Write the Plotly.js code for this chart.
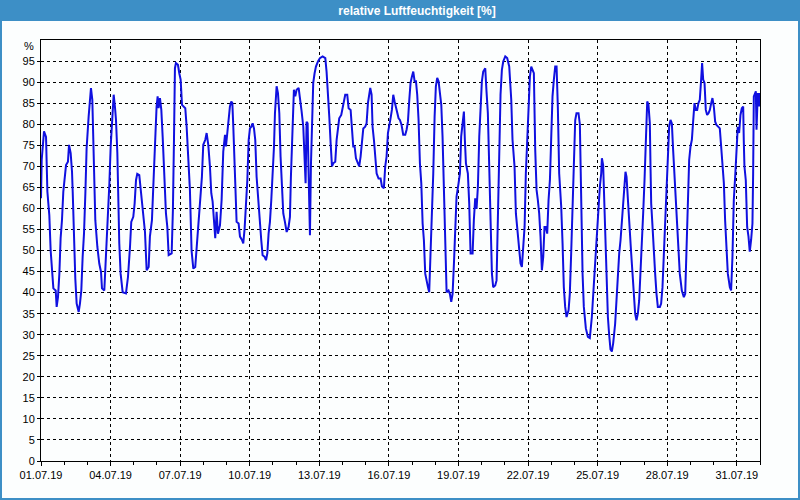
<!DOCTYPE html>
<html>
<head>
<meta charset="utf-8">
<script src="https://cdn.plot.ly/plotly-3.0.1.min.js"></script>
<style>
html,body{margin:0;padding:0;background:#fcfefe;}
#chart{width:800px;height:500px;}
</style>
</head>
<body>
<div id="chart"></div>
<script>
// hours since 01.07.2019 00:00
const hours = [
0,0.7,3.1,5.2,6.6,8.6,10.0,11.4,12.8,15.2,16.2,17.6,19.0,20.3,21.7,23.1,24.5,25.9,27.9,29.0,30.7,32.1,32.8,33.4,34.1,35.5,36.9,39.0,40.3,41.7,43.1,44.5,45.9,47.2,49.3,50.7,51.7,53.1,54.1,55.2,56.2,58.3,60.3,62.1,63.1,65.5,66.9,69.0,70.7,72.1,73.4,75.2,76.5,77.6,79.0,80.0,81.0,82.4,84.5,87.9,90.0,92.1,93.4,95.5,96.9,98.3,99.6,101.7,103.4,105.2,107.6,109.3,111.4,112.7,114.8,116.2,117.9,119.6,120.7,121.7,123.1,124.5,125.9,127.2,129.3,130.7,132.1,135.2,136.5,137.6,138.6,139.6,141.7,143.1,144.5,145.9,147.2,149.3,150.7,152.4,154.1,155.8,157.6,159.6,161.7,163.8,166.5,167.9,170.0,171.4,173.1,174.8,176.2,177.6,179.0,180.3,181.7,183.1,
185.2,186.9,188.6,190.4,191.4,192.8,194.5,195.5,196.9,198.0,199.0,200.7,202.4,204.5,205.9,208.0,209.3,210.7,212.1,213.5,214.9,216.2,217.6,219.0,220.4,221.7,223.1,224.9,226.6,227.9,229.3,231.4,232.8,234.2,235.5,236.9,238.3,239.7,241.1,242.1,243.8,245.2,246.6,247.9,249.3,250.7,252.4,254.2,256.2,257.6,258.6,259.7,261.7,263.1,264.5,266.6,267.9,269.7,271.4,272.8,273.8,274.8,275.9,276.9,277.6,278.3,279.3,280.4,281.7,283.1,284.5,286.6,288.6,291.4,294.2,295.5,296.9,298.3,299.7,301.1,302.4,304.5,305.9,307.3,308.6,310.7,312.1,313.5,314.8,316.9,318.3,320.4,321.7,323.1,324.5,325.9,328.0,329.3,330.7,332.1,333.5,335.5,336.9,338.3,339.7,340.7,342.1,343.1,344.5,345.9,347.3,349.3,351.4,352.8,354.8,356.2,357.6,359.0,360.4,361.7,363.1,364.5,365.9,367.3,368.6,370.0,
371.4,373.1,374.8,376.9,378.3,379.7,381.1,382.4,383.8,385.2,386.6,388.0,389.3,390.7,392.1,393.5,394.9,396.2,397.6,399.0,400.4,401.7,403.1,404.5,405.9,407.3,408.6,410.0,411.4,412.8,414.2,415.5,416.9,418.3,419.7,421.7,423.1,424.5,425.9,427.3,428.6,430.0,432.1,433.5,434.8,436.2,437.6,438.6,439.7,441.7,443.1,444.5,446.6,447.9,449.3,450.7,452.1,453.5,454.8,456.2,457.6,459.7,461.0,462.4,463.8,465.2,466.6,467.9,470.0,471.4,472.8,474.2,475.5,476.9,478.3,480.4,482.4,484.5,486.6,487.9,490.0,491.4,492.8,494.8,496.2,497.6,499.0,500.4,501.7,503.1,504.5,505.9,507.3,508.6,510.0,511.4,512.8,514.1,515.5,516.9,518.3,519.7,521.0,522.4,523.8,525.2,526.6,527.9,529.3,530.7,532.1,533.5,534.8,536.2,538.3,539.7,541.0,542.4,543.8,545.9,547.2,548.6,550.0,551.4,552.8,554.1,556.2,
557.6,559.0,560.4,561.7,563.8,565.9,567.9,570.0,571.4,572.8,574.2,575.5,576.9,578.3,579.7,580.4,581.7,582.4,583.8,585.2,586.6,587.9,589.3,590.7,592.1,594.1,595.5,596.9,598.3,599.7,601.0,602.4,603.8,604.8,605.9,606.6,607.9,609.3,610.7,612.1,613.5,614.8,616.2,617.6,619.0,620.4,621.7,623.1,624.5,625.9,627.3,628.6,630.0,630.7,631.4,632.8,634.1,635.5,636.9,638.3,640.4,641.7,643.1,644.5,645.9,647.2,648.6,650.0,651.4,652.8,654.1,655.5,656.9,658.3,659.7,661.0,663.1,665.2,666.6,667.9,669.3,670.7,672.1,673.5,674.8,676.2,677.6,679.0,680.3,681.7,683.1,684.1,685.2,686.6,687.9,689.3,690.7,692.1,693.5,694.8,696.2,697.6,699.0,700.3,702.4,703.8,705.2,706.6,707.9,709.3,710.7,712.8,714.1,715.5,716.9,718.3,719.7,721.0,722.4,723.8,725.2,726.6,727.2,727.9,729.3,730.7,732.1,733.4,734.8,736.2,736.9,737.6,739.0,739.7,740.4,741.7,743.1,743.8
];
const humidity = [
62.4,71.5,78.3,77,64,58.4,50,45.3,41,40.5,36.6,39,44.5,52.9,57.2,64,67.9,70.3,71.1,75.1,73.1,68.7,64,58.8,50,43.3,37.4,35.4,37.4,40.5,48.5,54,63.6,74.3,81.8,85,88.6,85.8,74.7,64.4,57.2,50.9,46.9,44.9,41,40.5,47.3,55.6,65.6,74.7,80.2,87,84.2,81,73.1,60.4,51.7,44.5,40.1,39.8,43.7,50.9,56.8,58,61.2,66.7,68.2,67.9,64.4,59.6,54.4,45.3,46.1,53.3,57.2,65.2,76.3,84.2,86.6,83.8,86.2,83.4,77,70,58.8,55.6,48.9,49.3,59.6,76.3,93.3,94.5,94.1,92.1,90.6,84.6,84.2,83.8,79.4,71.1,64.4,50,45.7,46.1,52.5,60.4,67.5,75.1,76.3,77.9,75.1,70,63.6,61.6,57.2,52.9,59.2,54,
56,62,73.5,77.5,74.7,77.9,80.6,84.2,85.4,85,79.4,67.5,56.8,56.4,53.3,52.5,51.7,55.2,60.4,66.7,76.3,79,79.4,80.2,79,76.3,67.5,61.6,55.2,52.5,48.9,48.5,47.7,49.3,54,56.8,62,67.5,74.7,82.6,89,87.4,82.6,72.3,66,58.8,56.8,54.4,55.6,58,67.5,77.1,88.2,86.6,88.2,88.6,86.6,83,79.4,73.1,66,80.6,80.2,68.3,60.4,53.6,70,83,89.8,92.1,93.7,94.9,95.7,96.1,95.7,92.5,88.2,81.8,75.5,70,70.7,71.1,76.3,79.4,81.4,82.2,84.2,85.8,87,87,83.8,83.4,77.9,74.7,74.7,71.9,70.7,70,72.3,75.5,79,79.4,80.2,85,87,88.6,87,79.4,76.3,72.7,68.3,67.1,67.1,65.2,64.8,70,72.3,77.9,79.4,81.4,83.4,87,85.4,83.8,82.2,81.4,
81,79.8,77.5,77.5,78.7,80.6,85.8,89.8,91.3,92.5,90.2,90.2,87,81,70.7,66,56.4,52.5,44.5,42.5,41.3,40.1,49.3,56.4,68.3,81.8,89,91,90.2,87.4,84.6,77.1,66,51.7,40.1,40.5,39.7,37.8,39.7,46.9,56.4,62.8,66,68.3,77.1,81,83,76.3,70.7,68.3,61.2,49.3,49.3,57.2,62.4,59.9,65.2,77.1,85,90.2,92.5,93.3,87.8,82.6,70,54,44.5,41.3,41.7,42.9,56.4,72.3,87,92.9,94.9,96.1,95.7,93.7,85.8,76.3,70,58.8,55.6,51.7,46.9,46.1,50,55.6,68.3,77.1,85.8,91.3,93.7,92.9,92.1,73.9,64.4,62,58.8,53.3,45.3,48.5,55.6,55.6,54,62,66.7,76.3,86.6,90.6,93.7,93.7,84.2,68.3,60.4,51.7,41.3,36.6,34.2,35.8,39.7,49.3,62,74.7,81,82.6,82.6,
80,60.4,44.5,36.6,31.5,29.5,29.2,34.2,39.7,45.3,50.9,56.4,61.2,65.2,68.3,71.9,70.3,65.2,52.5,39.7,34.2,30,26.5,26,28,32.6,38.2,44.5,49.3,52.5,57.2,62,66.7,68.7,67.5,64.4,59.6,53.3,49.3,44.5,39.7,35,33.4,35,38.2,44.5,50.9,58.8,66.7,77.9,85.4,84.6,80.2,70,61.2,55.6,49.3,44.5,39.7,36.6,36.6,37.4,41.3,49.3,54,64.4,71.5,79.4,81,80.2,73.9,68.3,63.6,55.6,49.3,44.5,40.5,38.9,39.7,49.3,62,71.5,74.7,76.3,80.6,85,83.4,83.4,85,85.8,90.6,94.5,90.6,89.8,83.4,82.2,82.6,83.4,85,86.2,84.2,80.6,79.8,79.4,79,74.7,70,66,57.2,50.9,44.5,41.3,40.5,48.5,62,67.5,73.9,79.4,77.9,82.2,83.8,84.2,76.3,70,66.7,55.6,53.3,49.7,52.5,56.4,68.3,86.6,87.4,87.8,78.7,87.4,84.2,87.4
];
const yTicks = [0,5,10,15,20,25,30,35,40,45,50,55,60,65,70,75,80,85,90,95];
const titleText = 'relative Luftfeuchtigkeit [%]';
const unitLabel = '%';

const start = Date.UTC(2019, 6, 1);
function toDate(h) {
  return new Date(start + h * 3600000).toISOString().slice(0, 19).replace('T', ' ');
}
const xDates = hours.map(toDate);

// plot area geometry in pixels
const L = 41, R = 760, T = 40, B = 461, W = 800, H = 500;
const pw = R - L, ph = B - T;
const px = v => (v - L) / pw;
const py = v => (B - v) / ph;

const trace = {
  x: xDates, y: humidity, type: 'scatter', mode: 'lines',
  line: {color: '#1010e0', width: 2},
  hoverinfo: 'skip'
};

const font = {family: 'Liberation Sans, Arial, sans-serif', size: 11, color: '#000'};

const layout = {
  width: W, height: H,
  margin: {l: L, r: W - R, t: T, b: H - B, pad: 0},
  paper_bgcolor: '#fcfefe',
  plot_bgcolor: '#fcfefe',
  showlegend: false,
  font: font,
  title: {
    text: titleText,
    font: {family: 'Liberation Sans, Arial, sans-serif', size: 12, color: '#ffffff', weight: 'bold'},
    x: 417 / W, xref: 'container', xanchor: 'center',
    y: 1 - 10.5 / H, yref: 'container', yanchor: 'middle'
  },
  xaxis: {
    type: 'date',
    range: ['2019-07-01 00:00', '2019-08-01 00:00'],
    tick0: '2019-07-01', dtick: 3 * 86400000,
    tickformat: '%d.%m.%y',
    ticks: 'outside', ticklen: 4, tickwidth: 1, tickcolor: '#000',
    minor: {dtick: 86400000, tick0: '2019-07-01', ticks: 'outside', ticklen: 3, tickcolor: '#000', showgrid: false},
    showgrid: true, gridcolor: '#000', gridwidth: 1, griddash: '3px,3px',
    showline: true, linecolor: '#000', linewidth: 1, mirror: true,
    zeroline: false, fixedrange: true,
    tickfont: font
  },
  yaxis: {
    range: [0, 100],
    tickvals: yTicks, ticktext: yTicks.map(String),
    ticks: 'outside', ticklen: 3, tickwidth: 1, tickcolor: '#000',
    showgrid: true, gridcolor: '#000', gridwidth: 1, griddash: '3px,3px',
    showline: true, linecolor: '#000', linewidth: 1, mirror: true,
    zeroline: false, fixedrange: true,
    tickfont: font
  },
  shapes: [
    {type: 'rect', xref: 'paper', yref: 'paper', layer: 'below',
     x0: px(0), x1: px(W), y0: py(21), y1: py(0),
     fillcolor: '#3d8fc6', line: {width: 0}},
    {type: 'rect', xref: 'paper', yref: 'paper', layer: 'above',
     x0: px(1), x1: px(W - 1), y0: py(H - 1), y1: py(1),
     fillcolor: 'rgba(0,0,0,0)', line: {color: '#3d8fc6', width: 2}}
  ],
  annotations: [
    {text: unitLabel, xref: 'paper', yref: 'paper', x: px(36), y: py(46),
     xanchor: 'right', yanchor: 'middle', showarrow: false, font: font}
  ]
};

Plotly.newPlot('chart', [trace], layout, {displayModeBar: false, staticPlot: true});
</script>
</body>
</html>
